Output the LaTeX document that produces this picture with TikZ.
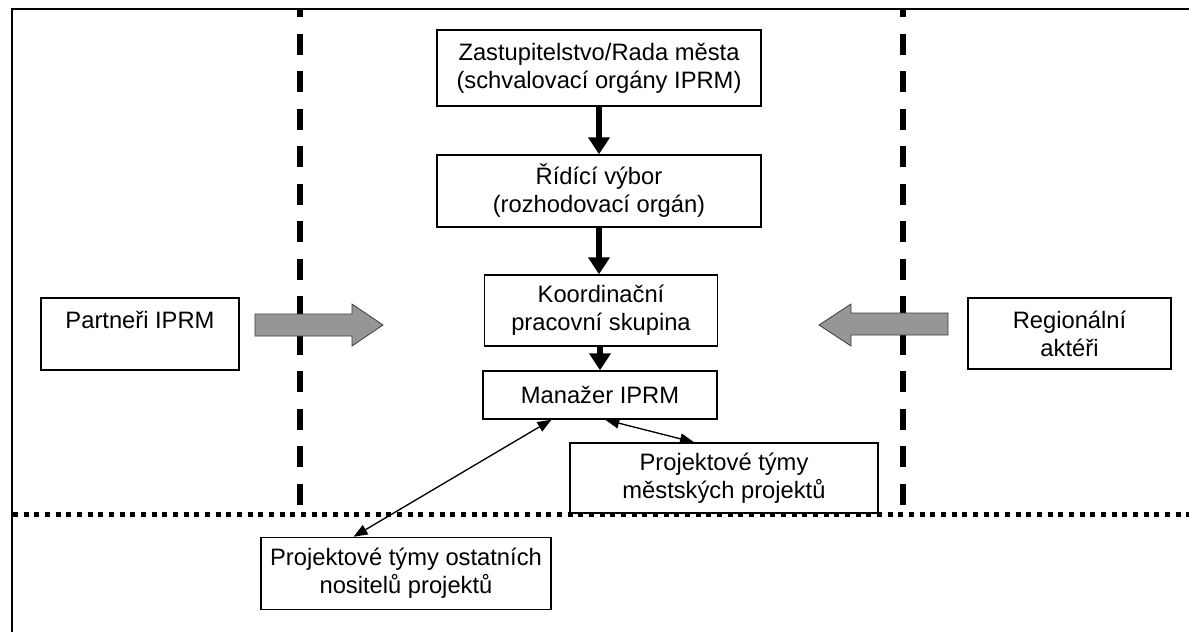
\documentclass[tikz,border=0pt]{standalone}
\usepackage{fontspec}
\setmainfont{Liberation Sans}
\usetikzlibrary{arrows.meta}

\tikzset{
  orgbox/.style={draw, line width=1.1pt, fill=white, align=center, inner sep=0pt,
    font=\fontsize{17.8}{21}\selectfont},
  flowarrow/.style={line width=4.5pt, -{Triangle[width=15.75pt,length=12.75pt]}},
  linkarrow/.style={line width=1pt, {Triangle[width=8pt,length=10.5pt]}-{Triangle[width=8pt,length=10.5pt]}},
  blockarrow/.style={fill={rgb,255:red,150;green,150;blue,150}, draw={rgb,255:red,60;green,60;blue,60}, line width=0.6pt},
  zoneline/.style={line width=4pt, dash pattern={on 15.75pt off 12.4pt}, dash phase=10.5pt},
  cityline/.style={line width=3.75pt, dash pattern={on 3.75pt off 4.25pt}},
}

\begin{document}
\begin{tikzpicture}[x=0.75pt,y=0.75pt,yscale=-1,xscale=1]
\useasboundingbox (0,0) rectangle (1189,632);

%Frame
\draw [line width=1.5pt] (11.5,632) -- (11.5,9) -- (1189,9) ;
%Straight Lines
\draw [zoneline] (300,10) -- (300,506) ;
\draw [zoneline] (903,10) -- (903,506) ;
%Straight Lines
\draw [cityline] (13,514) -- (1189,514) ;

%Shape: Right Arrow
\draw [blockarrow] (255,314) -- (352,314) -- (352,304) -- (383,325) -- (352,346) -- (352,336) -- (255,336) -- cycle ;
%Shape: Left Arrow
\draw [blockarrow] (948,313) -- (851,313) -- (851,304) -- (819,325) -- (851,346) -- (851,335) -- (948,335) -- cycle ;

% Text Node
\node [orgbox, minimum width=243pt, minimum height=57pt] (zast) at (599,68) {Zastupitelstvo/Rada města\\(schvalovací orgány IPRM)};
% Text Node
\node [orgbox, minimum width=243pt, minimum height=54pt] (rid) at (599,191) {Řídící výbor\\(rozhodovací orgán)};
% Text Node
\node [orgbox, minimum width=174.75pt, minimum height=53.25pt] (koord) at (601,310.5) {Koordinační\\pracovní skupina};
% Text Node
\node [orgbox, minimum width=175.5pt, minimum height=36pt] (man) at (600,395) {Manažer IPRM};
% Text Node
\node [orgbox, minimum width=231pt, minimum height=52.5pt] (mest) at (724,478) {Projektové týmy\\městských projektů};
% Text Node
\node [orgbox, minimum width=217.5pt, minimum height=54pt] (ost) at (406,573.5) {Projektové týmy ostatních\\nositelů projektů};
% Text Node
\node [orgbox, minimum width=148.5pt, minimum height=54pt] (part) at (140,334) {Partneři IPRM\\\mbox{}};
% Text Node
\node [orgbox, minimum width=152.25pt, minimum height=53.25pt] (reg) at (1069.5,333.5) {Regionální\\aktéři};

%Straight Lines
\draw [flowarrow] (zast.south) -- (rid.north) ;
\draw [flowarrow] (rid.south) -- (koord.north -| rid.south) ;
\draw [flowarrow] (koord.south -| man.north) -- (man.north) ;
%Straight Lines
\draw [linkarrow] (man.207) -- (ost.145) ;
\draw [linkarrow] (man.282) -- (mest.130) ;

\end{tikzpicture}
\end{document}
